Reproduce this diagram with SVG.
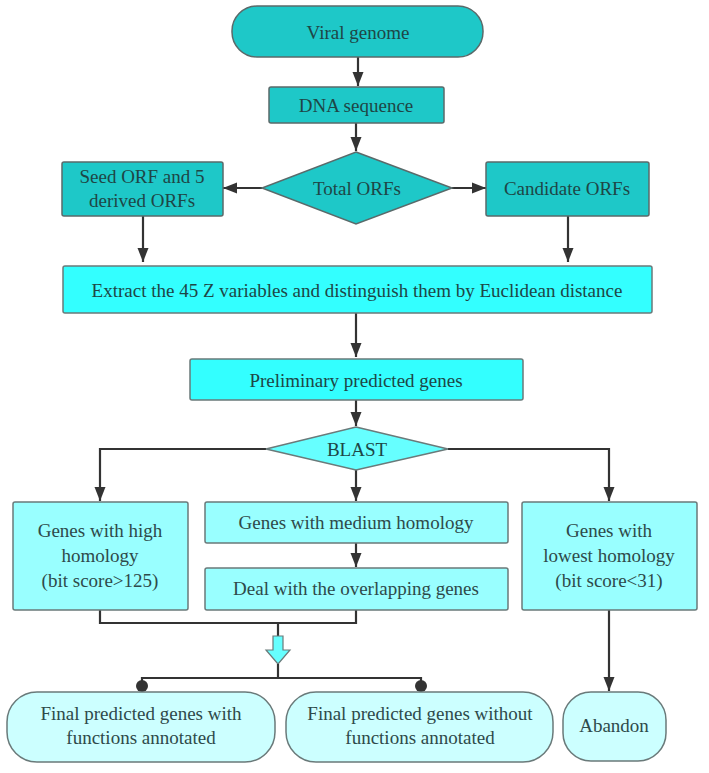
<svg xmlns="http://www.w3.org/2000/svg" width="709" height="773" viewBox="0 0 709 773">
<defs>
<style>
.t{font-size:19px;fill:#1e4646;text-anchor:middle;dominant-baseline:central}
.tl{fill:#2e4a4a}
.n1{fill:#1ec8c8;stroke:#5a6a6a;stroke-width:1.5}
.n2{fill:#33ffff;stroke:#6a7a7a;stroke-width:1.5}
.n3{fill:#66ffff;stroke:#6a7a7a;stroke-width:1.5}
.n4{fill:#99ffff;stroke:#6a7a7a;stroke-width:1.5}
.n5{fill:#ccffff;stroke:#6a7a7a;stroke-width:1.5}
.c{fill:none;stroke:#333;stroke-width:2.2}
</style>
<marker id="ah" markerUnits="userSpaceOnUse" markerWidth="14" markerHeight="14" viewBox="0 0 14 14" refX="14" refY="7" orient="auto">
<path d="M0,1.5 L14,7 L0,12.5 Z" fill="#333"/>
</marker>
</defs>

<g id="connectors">
<line class="c" x1="358" y1="57" x2="358" y2="86" marker-end="url(#ah)"/>
<line class="c" x1="356" y1="123" x2="356" y2="151" marker-end="url(#ah)"/>
<line class="c" x1="262" y1="188" x2="223" y2="188" marker-end="url(#ah)"/>
<line class="c" x1="452" y1="188" x2="486" y2="188" marker-end="url(#ah)"/>
<line class="c" x1="143" y1="216" x2="143" y2="262" marker-end="url(#ah)"/>
<line class="c" x1="568" y1="216" x2="568" y2="262" marker-end="url(#ah)"/>
<line class="c" x1="356" y1="313" x2="356" y2="357" marker-end="url(#ah)"/>
<line class="c" x1="356" y1="400" x2="356" y2="426" marker-end="url(#ah)"/>
<polyline class="c" points="266,449 100,449 100,501" marker-end="url(#ah)"/>
<line class="c" x1="356" y1="470" x2="356" y2="501" marker-end="url(#ah)"/>
<polyline class="c" points="448,449 609,449 609,501" marker-end="url(#ah)"/>
<line class="c" x1="356" y1="543" x2="356" y2="567" marker-end="url(#ah)"/>
<polyline class="c" points="100,610 100,623 356,623 356,610"/>
<line class="c" x1="278" y1="623" x2="278" y2="636"/>
<polygon points="273,636 283,636 283,650 290,650 278,664 266,650 273,650" fill="#66ffff" stroke="#6a7a7a" stroke-width="1.2"/>
<line class="c" x1="278" y1="664" x2="278" y2="678"/>
<polyline class="c" points="142,690 142,678 421,678 421,690"/>
<circle cx="142" cy="686" r="6" fill="#333"/>
<circle cx="421" cy="686" r="6" fill="#333"/>
<line class="c" x1="609" y1="610" x2="609" y2="691" marker-end="url(#ah)"/>
</g>

<g font-family="Liberation Serif, Times New Roman, DejaVu Serif, serif">
<g id="viral-genome">
<rect class="n1" x="232" y="6" width="251" height="51" rx="25" ry="25"/>
<text class="t" x="358" y="32">Viral genome</text>
</g>
<g id="dna-sequence">
<rect class="n1" x="269" y="87" width="175" height="36" rx="2"/>
<text class="t" x="356" y="105">DNA sequence</text>
</g>
<g id="total-orfs">
<polygon class="n1" points="356,152 452,188 356,224 262,188"/>
<text class="t" x="357" y="188">Total ORFs</text>
</g>
<g id="seed-orf">
<rect class="n1" x="62" y="162" width="161" height="54" rx="2"/>
<text class="t" x="142" y="176">Seed ORF and 5</text>
<text class="t" x="142" y="200">derived ORFs</text>
</g>
<g id="candidate-orfs">
<rect class="n1" x="486" y="162" width="163" height="54" rx="2"/>
<text class="t" x="567" y="188">Candidate ORFs</text>
</g>
<g id="extract">
<rect class="n2" x="63" y="266" width="589" height="47" rx="2"/>
<text class="t" x="357" y="290">Extract the 45 Z variables and distinguish them by Euclidean distance</text>
</g>
<g id="preliminary">
<rect class="n2" x="190" y="359" width="333" height="41" rx="2"/>
<text class="t" x="356" y="380">Preliminary predicted genes</text>
</g>
<g id="blast">
<polygon class="n3" points="356,427 448,449 356,470 266,449"/>
<text class="t" x="357" y="449">BLAST</text>
</g>
<g id="high-homology">
<rect class="n4" x="13" y="502" width="175" height="108" rx="2"/>
<text class="t tl" x="100" y="530">Genes with high</text>
<text class="t tl" x="100" y="555">homology</text>
<text class="t tl" x="100" y="580">(bit score&gt;125)</text>
</g>
<g id="medium-homology">
<rect class="n4" x="205" y="502" width="303" height="41" rx="2"/>
<text class="t tl" x="356" y="522">Genes with medium homology</text>
</g>
<g id="overlapping">
<rect class="n4" x="205" y="568" width="303" height="42" rx="2"/>
<text class="t tl" x="356" y="588">Deal with the overlapping genes</text>
</g>
<g id="lowest-homology">
<rect class="n4" x="522" y="502" width="175" height="108" rx="2"/>
<text class="t tl" x="609" y="530">Genes with</text>
<text class="t tl" x="609" y="555">lowest homology</text>
<text class="t tl" x="609" y="580">(bit score&lt;31)</text>
</g>
<g id="final-with">
<rect class="n5" x="7" y="692" width="268" height="70" rx="30" ry="30"/>
<text class="t tl" x="141" y="713">Final predicted genes with</text>
<text class="t tl" x="141" y="737">functions annotated</text>
</g>
<g id="final-without">
<rect class="n5" x="286" y="692" width="267" height="70" rx="30" ry="30"/>
<text class="t tl" x="420" y="713">Final predicted genes without</text>
<text class="t tl" x="420" y="737">functions annotated</text>
</g>
<g id="abandon">
<rect class="n5" x="563" y="692" width="103" height="69" rx="28" ry="28"/>
<text class="t tl" x="614" y="725">Abandon</text>
</g>
</g>
</svg>
